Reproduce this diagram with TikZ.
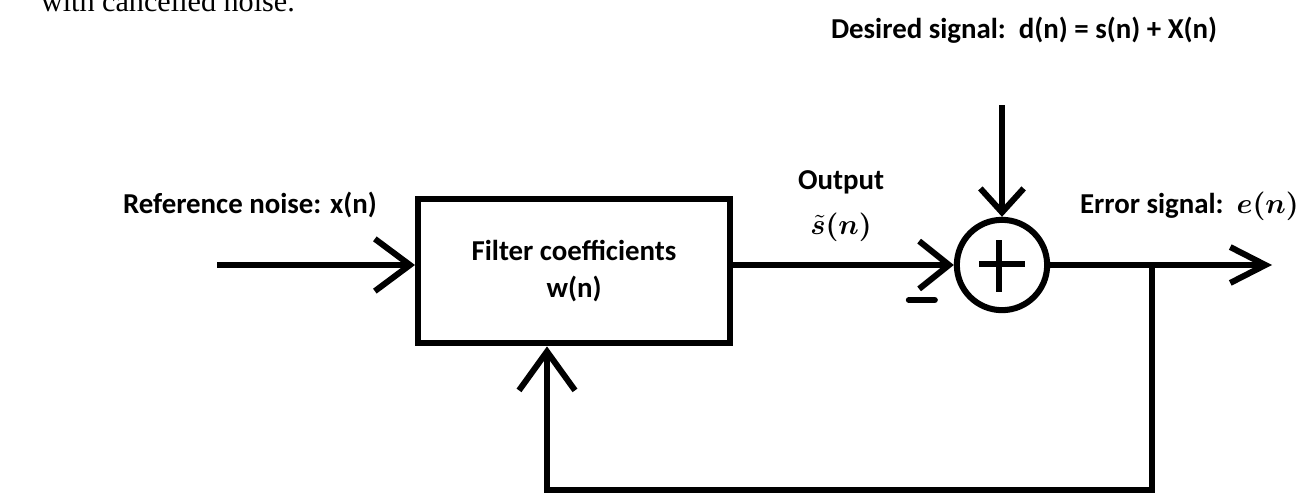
\documentclass[tikz,border=0pt]{standalone}
\usepackage{amsmath,amssymb,bm}
\usepackage{fontspec}
\setmainfont{Carlito}
\newfontfamily\docfont{Liberation Serif}
\usetikzlibrary{positioning,arrows.meta}

\begin{document}
\begin{tikzpicture}[x=0.0134cm,y=-0.0134cm,line width=2.3pt,
    >={Straight Barb[length=4.7mm,width=7mm]},
    font=\fontsize{11}{14}\selectfont\bfseries,
    block/.style={draw,minimum width=4.18cm,minimum height=1.94cm,align=center},
    sumnode/.style={draw,circle,minimum size=1.21cm,inner sep=0pt},
    sumin/.style={-{Straight Barb[length=4mm,width=6.4mm]}},
    sumtop/.style={-{Straight Barb[length=3.2mm,width=5.8mm]}},
    outarr/.style={-{Straight Barb[length=4.7mm,width=4.8mm]}},
    fbarr/.style={-{Straight Barb[length=5.2mm,width=7.5mm]}},
    lbl/.style={inner sep=0pt}]
  \clip (0,0) rectangle (1306,493);

  % blocks
  \node[block] (filt) at (574,271) {Filter coefficients\\w(n)};
  \node[sumnode] (sum) at (1002,265) {};
  \coordinate (src) at (217,265);
  \coordinate (dsrc) at (1002,105);
  \coordinate (tap) at (1152,265);
  \coordinate (sink) at (1272,265);
  \coordinate (fbl) at (547,490);

  % signal paths
  \draw[->] (src) -- (src -| filt.west);
  \draw[sumin] (filt.east |- src) -- (sum.west);
  \draw[sumtop] (dsrc) -- (sum.north);
  \draw[outarr] (sum.east) -- (sink);
  \draw[fbarr] (tap) |- (fbl) -- (fbl |- filt.south);

  % plus and minus
  \draw (sum.center) ++(-23,-1) -- ++(46,0) (sum.center) ++(-3,-25) -- ++(0,52);
  \draw[line cap=round] (sum.west) ++(-45,35) -- ++(26,0);

  % labels
  \node[lbl,anchor=base west] (reflbl) at (120,213) {Reference noise: x(n)};
  \node[lbl] (outlbl) at (841,182) {Output};
  \node[lbl,below=0.18cm of outlbl] (stilde) {$\bm{\tilde{s}(n)}$};
  \node[lbl,anchor=base west] (deslbl) at (828,38) {Desired signal:\ \ d(n) = s(n) + X(n)};
  \node[lbl,anchor=base west] (errlbl) at (1077,213) {Error signal:\ \ $\bm{e(n)}$};
  \node[lbl,anchor=base west,font=\docfont\fontsize{11.5}{14}\selectfont] (cutline) at (38,12) {with cancelled noise.};
\end{tikzpicture}
\end{document}
